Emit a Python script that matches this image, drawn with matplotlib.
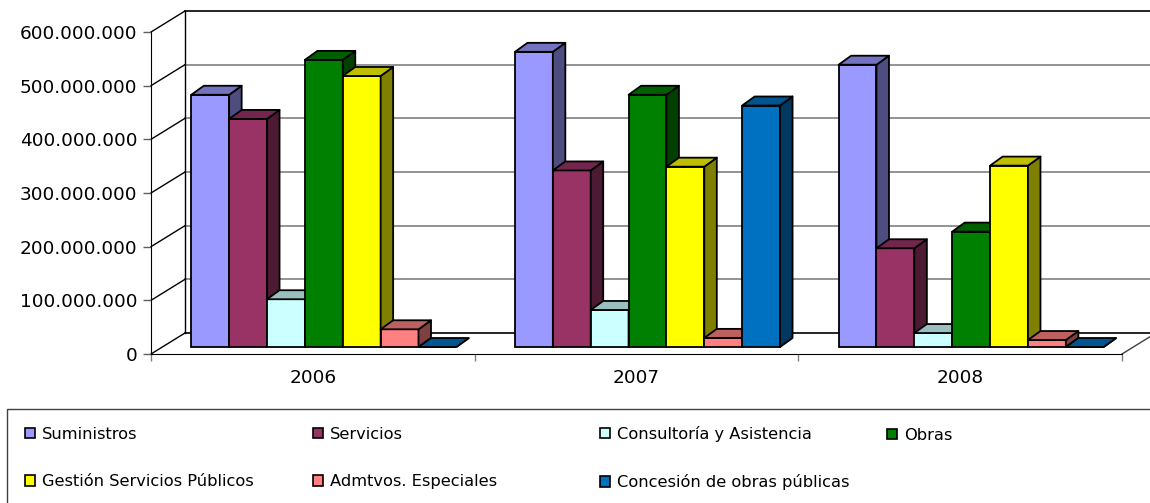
import matplotlib
matplotlib.use('Agg')
import matplotlib.pyplot as plt
from matplotlib.patches import Polygon, Patch, Rectangle
from matplotlib.ticker import FuncFormatter
import numpy as np

plt.rcParams['font.family'] = ['DejaVu Sans']

years = ['2006', '2007', '2008']
series_names = ['Suministros', 'Servicios', 'Consultoría y Asistencia', 'Obras',
                'Gestión Servicios Públicos', 'Admtvos. Especiales',
                'Concesión de obras públicas']

# importe adjudicado por tipo de contrato (euros)
suministros = [470e6, 550e6, 526e6]
servicios = [425e6, 329e6, 184e6]
consultoria = [89e6, 69e6, 26e6]
obras = [535e6, 470e6, 215e6]
gestion = [505e6, 336e6, 338e6]
admtvos = [33e6, 17e6, 13e6]
concesion = [0, 450e6, 0]

yticks = [0, 100e6, 200e6, 300e6, 400e6, 500e6, 600e6]

all_series = [suministros, servicios, consultoria, obras, gestion, admtvos, concesion]
colors = ['#9999FF', '#993366', '#CCFFFF', '#008000', '#FFFF00', '#FF8080', '#0070C0']


def shade(c, f):
    r, g, b = matplotlib.colors.to_rgb(c)
    return (r * f, g * f, b * f)


W, H = 1150, 503
fig = plt.figure(figsize=(W / 100, H / 100), dpi=100)

# front plane of the plot area, in pixels from the top-left corner
x0, x1 = 151, 1122
yb, yt = 354, 32
ax = fig.add_axes([x0 / W, 1 - yb / H, (x1 - x0) / W, (yb - yt) / H])
ax.set_xlim(0, 3)
ax.set_ylim(0, 600e6)
ux = 3 / (x1 - x0)
uy = 600e6 / (yb - yt)

# oblique depth of the walls and of the bars
ddx, ddy = 34 * ux, 21 * uy
fx, fy = 11 * ux, 7 * uy
bx, by = 12.5 * ux, 9 * uy

# back wall and left wall
for v in yticks:
    col = 'black' if v in (0, 600e6) else '#808080'
    ax.plot([ddx, 3 + ddx + 0.2], [v + ddy, v + ddy], color=col, lw=1.2,
            clip_on=False, zorder=1)
    ax.plot([0, ddx], [v, v + ddy], color='black', lw=1, clip_on=False, zorder=1)
ax.plot([ddx, ddx], [ddy, 600e6 + ddy], color='black', lw=1, clip_on=False, zorder=1)
ax.plot([3, 3 + ddx], [0, ddy], color='#404040', lw=1, clip_on=False, zorder=1)

# 3D bars: front face, top face and right side face
w = 0.117
gap = (1 - 7 * w) / 2
lw = 1.3
for i in range(len(years)):
    for j, (vals, c) in enumerate(zip(all_series, colors)):
        v = vals[i]
        left = i + gap + j * w + fx
        ax.bar(left, v, width=w, bottom=fy, align='edge', color=c,
               edgecolor='black', linewidth=lw, clip_on=False, zorder=3)
        top = Polygon([(left, fy + v), (left + bx, fy + v + by),
                       (left + w + bx, fy + v + by), (left + w, fy + v)],
                      closed=True, facecolor=shade(c, 0.75), edgecolor='black',
                      linewidth=lw, joinstyle='round', clip_on=False, zorder=3)
        side = Polygon([(left + w, fy), (left + w + bx, fy + by),
                        (left + w + bx, fy + v + by), (left + w, fy + v)],
                       closed=True, facecolor=shade(c, 0.5), edgecolor='black',
                       linewidth=lw, joinstyle='round', clip_on=False, zorder=3)
        ax.add_patch(side)
        ax.add_patch(top)

# axes
for s in ['top', 'right']:
    ax.spines[s].set_visible(False)
ax.spines['left'].set_color('black')
ax.spines['bottom'].set_color('black')
ax.spines['left'].set_zorder(2)
ax.spines['bottom'].set_zorder(2)

ax.set_yticks(yticks)
ax.yaxis.set_major_formatter(FuncFormatter(lambda v, p: f'{int(v):,}'.replace(',', '.')))
ax.tick_params(axis='y', length=5.5, width=1, color='#606060', pad=4.5,
               labelsize=13.3, labelcolor='black')

ax.set_xticks([0, 1, 2, 3])
ax.set_xticklabels([])
ax.set_xticks([0.5, 1.5, 2.5], minor=True)
ax.set_xticklabels(years, minor=True)
ax.tick_params(axis='x', which='major', length=5, width=1, color='#808080')
ax.tick_params(axis='x', which='minor', length=0, pad=11, labelsize=13.3)

# legend box
fig.patches.append(Rectangle((7 / W, -0.1), 2, (H - 409) / H + 0.1,
                             transform=fig.transFigure, fill=False,
                             edgecolor='#404040', linewidth=1))

handles = [Patch(facecolor=c, edgecolor='black', linewidth=1.2) for c in colors]
columns = [[0, 4], [1, 5], [2, 6], [3]]
col_x = [25, 313, 600, 887]
for cx, idx in zip(col_x, columns):
    yc = 458 if len(idx) == 2 else 435
    leg = fig.legend([handles[k] for k in idx], [series_names[k] for k in idx],
                     loc='center left', bbox_to_anchor=(cx / W, 1 - yc / H),
                     frameon=False, fontsize=11.7, borderpad=0, borderaxespad=0,
                     handlelength=0.6, handleheight=0.6, handletextpad=0.45,
                     labelspacing=2.0)

fig.savefig('out.png', dpi=100)
